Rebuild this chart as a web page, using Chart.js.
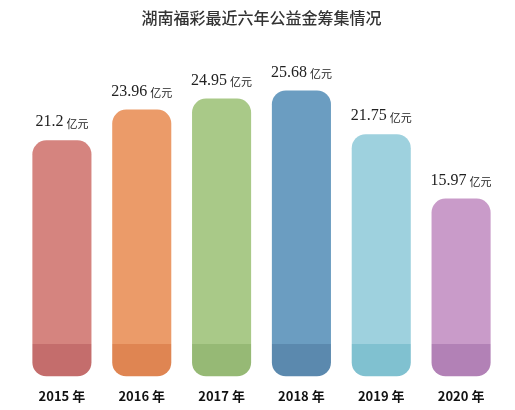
<!DOCTYPE html>
<html>
<head>
<meta charset="utf-8">
<script src="https://cdn.jsdelivr.net/npm/chart.js@4"></script>
<style>
  body { margin: 0; background: #fff; }
  #wrap { width: 515px; height: 410px; }
</style>
</head>
<body>
<div id="wrap"><canvas id="chart"></canvas></div>
<script>
const categories = ['2015 年', '2016 年', '2017 年', '2018 年', '2019 年', '2020 年'];
const values = [21.2, 23.96, 24.95, 25.68, 21.75, 15.97];
const topColors = ['#d5847f', '#eb9b69', '#a9c988', '#6b9dc1', '#9ed1de', '#c99bc9'];
const baseColors = ['#c46d6c', '#df8552', '#96b975', '#5b89ae', '#80c1d0', '#b281b6'];
const baseValue = 2.9; // darker bottom strip of every bar

// labels above bars: number + smaller "亿元"
const labelPlugin = {
  id: 'labels',
  afterDatasetsDraw(chart) {
    const ctx = chart.ctx;
    const meta = chart.getDatasetMeta(1);
    ctx.save();
    ctx.fillStyle = '#222';
    ctx.textBaseline = 'bottom';
    meta.data.forEach((bar, i) => {
      const num = String(values[i]);
      ctx.font = '16px "Liberation Serif", "DejaVu Serif", serif';
      const w1 = ctx.measureText(num).width;
      ctx.font = '11px "Noto Sans CJK SC"';
      const w2 = ctx.measureText('亿元').width;
      let x = bar.x - (w1 + 3 + w2) / 2;
      const y = bar.y - 10;
      ctx.textAlign = 'left';
      ctx.font = '16px "Liberation Serif", "DejaVu Serif", serif';
      ctx.fillText(num, x, y);
      ctx.font = '11px "Noto Sans CJK SC"';
      ctx.fillText('亿元', x + w1 + 3, y - 1);
    });
    ctx.restore();
  }
};

new Chart(document.getElementById('chart'), {
  type: 'bar',
  data: {
    labels: categories,
    datasets: [
      {
        data: values.map(() => baseValue),
        backgroundColor: baseColors,
        borderSkipped: false,
        borderRadius: { bottomLeft: 14, bottomRight: 14, topLeft: 0, topRight: 0 }
      },
      {
        data: values.map(v => v - baseValue),
        backgroundColor: topColors,
        borderSkipped: false,
        borderRadius: { topLeft: 14, topRight: 14, bottomLeft: 0, bottomRight: 0 }
      }
    ]
  },
  options: {
    responsive: true,
    maintainAspectRatio: false,
    animation: false,
    layout: { padding: { left: 22, right: 14, top: 0, bottom: 2 } },
    datasets: { bar: { categoryPercentage: 1, barPercentage: 0.74 } },
    plugins: {
      legend: { display: false },
      tooltip: { enabled: false },
      title: {
        display: true,
        text: '湖南福彩最近六年公益金筹集情况',
        color: '#333',
        font: { family: '"Noto Sans CJK SC"', size: 16, weight: '500' },
        padding: { top: 8, bottom: 24 }
      }
    },
    scales: {
      x: {
        stacked: true,
        grid: { display: false },
        border: { display: false },
        ticks: { color: '#111', font: { family: '"Noto Sans CJK SC"', size: 13, weight: 'bold' }, padding: 4 }
      },
      y: {
        stacked: true,
        display: false,
        min: 0,
        max: 29.2
      }
    }
  },
  plugins: [labelPlugin]
});
</script>
</body>
</html>
